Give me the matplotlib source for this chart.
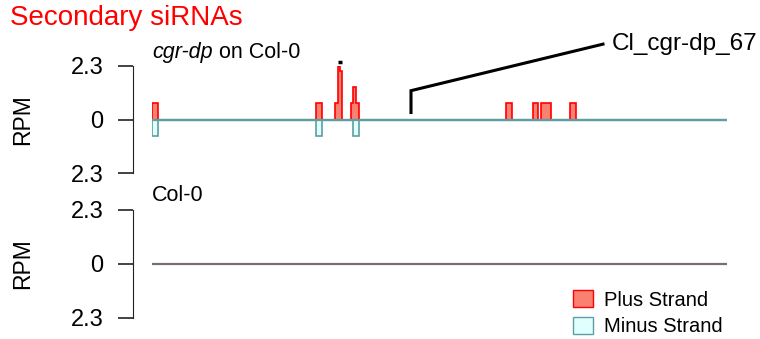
import numpy as np
import matplotlib
matplotlib.use("Agg")
import matplotlib.pyplot as plt
from matplotlib.patches import Patch

plt.rcParams['font.family'] = ['Liberation Sans', 'DejaVu Sans']

# region length (arbitrary position units)
region_len = 575
ymax = 2.3

# plus strand reads: (start, end, RPM)
plus_start = [0, 164, 183, 186, 188, 199, 201, 204, 354, 381, 389, 418]
plus_end = [6, 170, 186, 188, 190, 201, 204, 207, 360, 386, 399, 424]
plus_rpm = [0.72, 0.72, 0.72, 3.0, 2.1, 0.72, 1.4, 0.72, 0.72, 0.72, 0.72, 0.72]

# minus strand reads
minus_start = [0, 164, 201]
minus_end = [6, 170, 207]
minus_rpm = [0.72, 0.72, 0.72]

# cluster label
cl_name = "Cl_cgr-dp_67"
cl_pos = 259

plus_face = '#FA8072'
plus_edge = '#FF0000'
minus_face = '#E0FFFF'
minus_edge = '#5F9EA0'


def to_stairs(starts, ends, vals, sign=1):
    edges = [starts[0]]
    values = []
    for s, e, v in zip(starts, ends, vals):
        if s > edges[-1]:
            values.append(0)
            edges.append(s)
        values.append(sign * min(v, ymax))
        edges.append(e)
    return np.array(edges, float), np.array(values, float)


def setup_axis(ax, color_base):
    ax.set_xlim(0, region_len)
    ax.set_ylim(-ymax, ymax)
    for s in ['top', 'right', 'bottom']:
        ax.spines[s].set_visible(False)
    ax.spines['left'].set_position(('outward', 14))
    ax.spines['left'].set_color('#222222')
    ax.set_xticks([])
    ax.set_yticks([-ymax, 0, ymax], ['2.3', '0', '2.3'])
    ax.tick_params(axis='y', length=11, width=1.2, color='#222222', pad=10, labelsize=17)
    ax.set_ylabel('RPM', fontsize=16.5)
    ax.yaxis.set_label_coords(-0.205, 0.5)
    ax.patch.set_visible(False)
    ax.axhline(0, color=color_base, lw=1.6, zorder=1)


fig = plt.figure(figsize=(7.6, 3.39), dpi=100)
ax1 = fig.add_axes([152 / 760, 1 - 173 / 339, 575 / 760, 107 / 339])
ax2 = fig.add_axes([152 / 760, 1 - 318 / 339, 575 / 760, 108 / 339])

setup_axis(ax1, '#5F9EA0')
setup_axis(ax2, '#7A6E6E')

e, v = to_stairs(plus_start, plus_end, plus_rpm)
ax1.stairs(v, e, fill=True, color=plus_face, zorder=2)
ax1.stairs(v, e, baseline=0, color=plus_edge, lw=1.2, zorder=3)
e, v = to_stairs(minus_start, minus_end, minus_rpm, sign=-1)
ax1.stairs(v, e, fill=True, color=minus_face, zorder=2)
ax1.stairs(v, e, baseline=0, color=minus_edge, lw=1.2, zorder=3)
ax1.axhline(0, color='#5F9EA0', lw=1.6, zorder=4)

# marks for values beyond the axis range
for s, en, r in zip(plus_start, plus_end, plus_rpm):
    if r > ymax:
        ax1.hlines(ymax + 0.17, s - 0.5, en + 1.5, color='black', lw=2.5, clip_on=False)

# cluster annotation
ax1.plot([cl_pos, cl_pos, 451], [0.3, 1.24, 3.24], color='black', lw=2.2,
         clip_on=False, solid_joinstyle='miter')
ax1.text(460, 3.24, cl_name, fontsize=17.5, va='center', ha='left')

# panel titles
t1 = ax1.text(0, 2.9, 'cgr-dp', fontsize=15.5, style='italic', va='center', ha='left')
ax1.annotate(' on Col-0', xy=(1, 0.5), xycoords=t1, fontsize=15.5, va='center', ha='left')
ax2.text(0, 2.9, 'Col-0', fontsize=15.5, va='center', ha='left')

fig.text(10 / 760, 1 - 18 / 339, 'Secondary siRNAs', color='red', fontsize=20,
         va='center', ha='left')

handles = [Patch(facecolor=plus_face, edgecolor=plus_edge, label='Plus Strand'),
           Patch(facecolor=minus_face, edgecolor=minus_edge, label='Minus Strand')]
fig.legend(handles=handles, loc='lower left', bbox_to_anchor=(555 / 760, -0.045),
           frameon=False, fontsize=14.5, handlelength=1.0, handleheight=0.9,
           handletextpad=0.55, labelspacing=0.35)

fig.savefig('out.png', dpi=100)
